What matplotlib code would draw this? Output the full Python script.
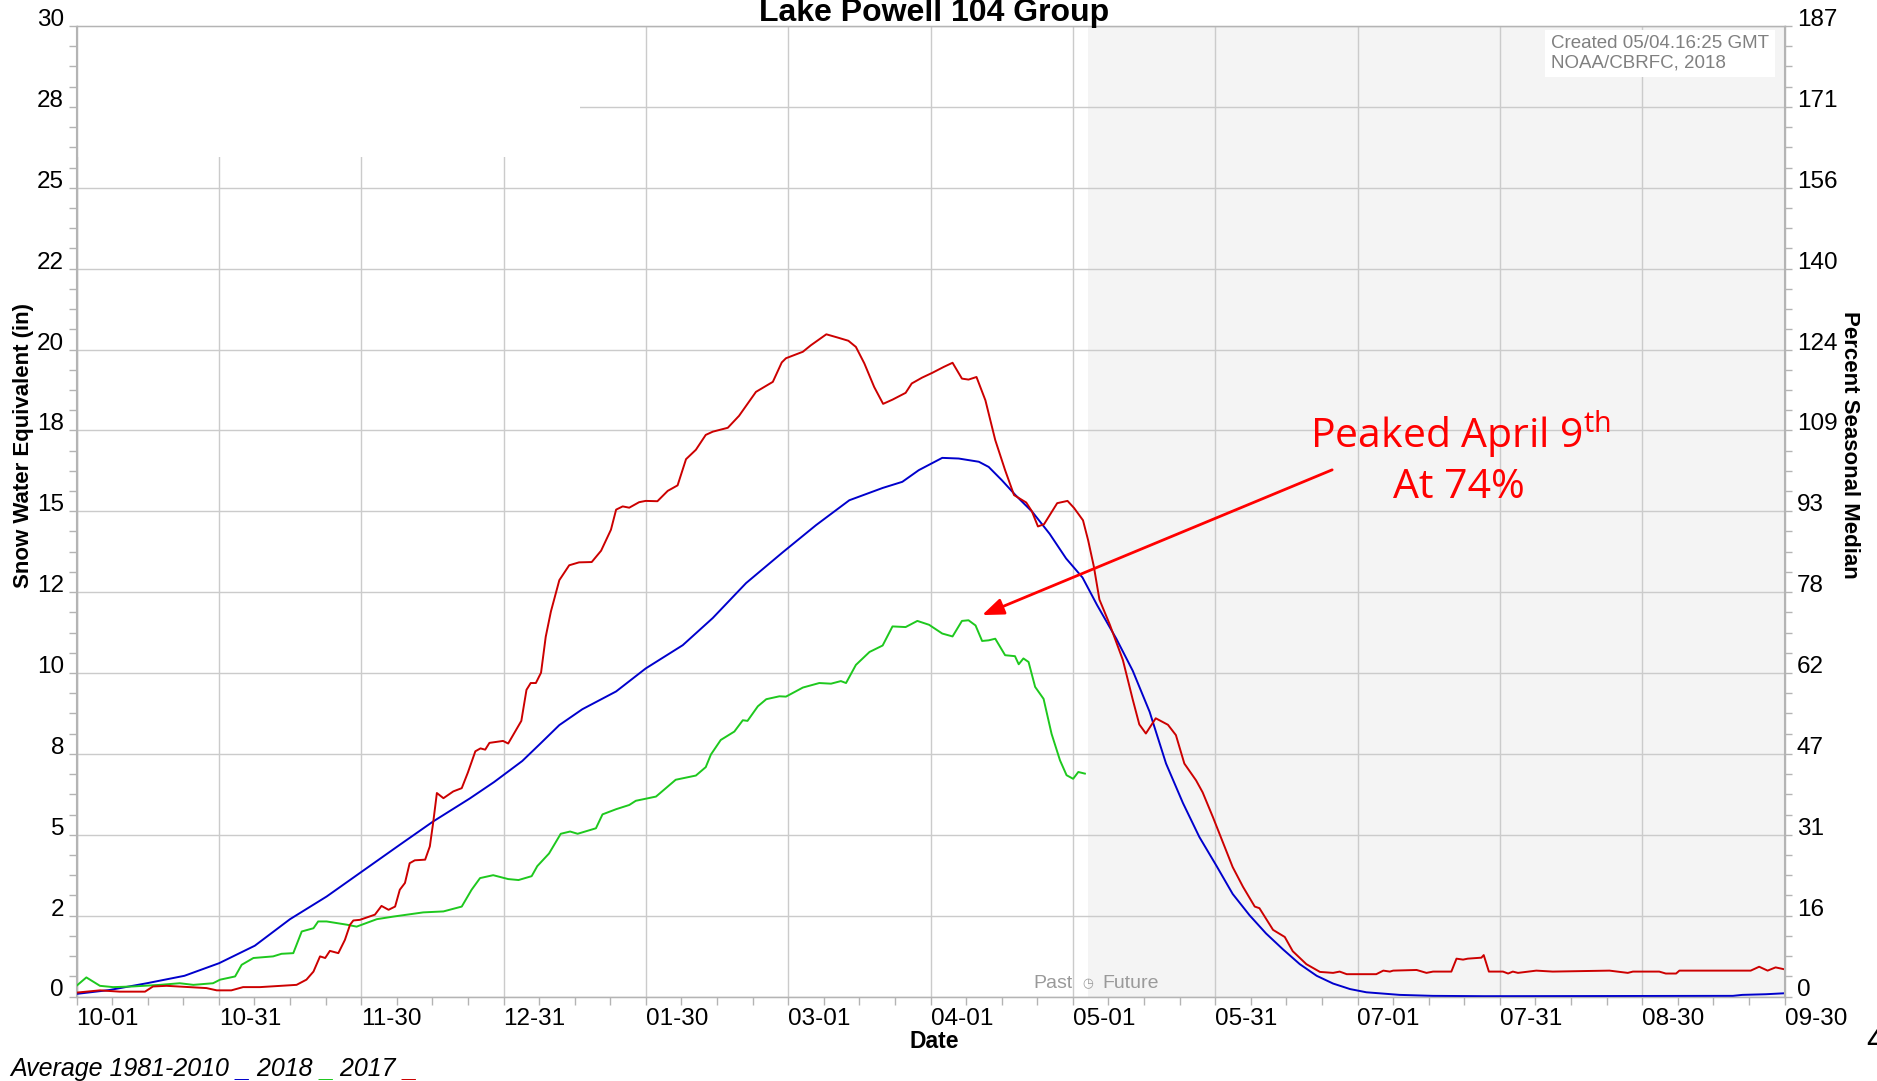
import numpy as np
import matplotlib
matplotlib.use("Agg")
import matplotlib.pyplot as plt
from matplotlib.ticker import FixedLocator, MultipleLocator

# ---------------- data (day of water year, SWE inches) ----------------
avg_day = [0, 7, 15, 23, 30.4, 38, 45.5, 53.3, 60.9, 68.9, 76, 83.8, 89, 95, 98.8,
           102.9, 107.8, 115, 121.3, 129.2, 135.6, 142.7, 150.5, 157.6, 164.7, 171.8,
           176, 179.5, 184.5, 188, 192.3, 194.4, 197.2, 200.1, 203.7, 207.4, 210.9,
           214.4, 217.5, 221.6, 225.1, 228.7, 232.2, 235.8, 239.3, 242.9, 246.4, 250,
           253.5, 257.1, 260.7, 264.3, 267.8, 271.4, 274.9, 282, 289, 300, 353, 355,
           360, 364]
avg_swe = [0.08, 0.2, 0.41, 0.64, 1.03, 1.57, 2.39, 3.09, 3.87, 4.69, 5.41, 6.12, 6.63,
           7.28, 7.81, 8.39, 8.88, 9.43, 10.14, 10.86, 11.7, 12.78, 13.73, 14.57, 15.34,
           15.72, 15.91, 16.27, 16.65, 16.63, 16.53, 16.37, 15.96, 15.5, 14.98, 14.3,
           13.54, 12.95, 12.1, 11.06, 10.07, 8.8, 7.2, 5.98, 4.93, 4.05, 3.17, 2.51,
           1.95, 1.46, 1.0, 0.64, 0.4, 0.23, 0.13, 0.05, 0.02, 0.01, 0.02, 0.05, 0.07,
           0.1]

wy2018_day = [0, 2.1, 5, 7.8, 12, 17.8, 22, 24.9, 29.1, 30.6, 33.8, 35.2, 37.7, 41.9,
              43.7, 46.2, 48, 50.5, 51.5, 53.3, 57.6, 59.7, 64, 67.5, 73.9, 78.2, 82.1,
              84.2, 86, 88.8, 92, 94.2, 97, 98.2, 100.7, 103.2, 105.2, 106.8, 110.7,
              112.1, 115, 117.8, 119.2, 123.5, 127.7, 132, 134.1, 135.2, 137.3, 140.2,
              142, 143, 145.2, 147, 149.8, 151.2, 154.8, 158.3, 160.8, 162.9, 164,
              166.1, 169, 171.8, 173.9, 176.7, 179.2, 181.7, 184.5, 186.7, 188.7, 190.1,
              191.6, 193, 194.4, 195.8, 197.9, 200, 200.8, 201.8, 202.9, 204.3, 206.1,
              207.8, 209.6, 211, 212.4, 213.5, 214.9]
wy2018_swe = [0.33, 0.59, 0.33, 0.29, 0.31, 0.36, 0.41, 0.36, 0.41, 0.52, 0.62, 0.98,
              1.19, 1.24, 1.32, 1.34, 2.01, 2.11, 2.32, 2.32, 2.22, 2.16, 2.39, 2.47,
              2.6, 2.63, 2.78, 3.3, 3.66, 3.75, 3.63, 3.6, 3.72, 4.03, 4.42, 5.03, 5.1,
              5.03, 5.2, 5.63, 5.79, 5.92, 6.05, 6.18, 6.7, 6.83, 7.09, 7.48, 7.93, 8.19,
              8.54, 8.52, 8.97, 9.19, 9.28, 9.27, 9.55, 9.69, 9.67, 9.75, 9.69, 10.25,
              10.65, 10.85, 11.44, 11.42, 11.61, 11.49, 11.22, 11.13, 11.61, 11.63,
              11.47, 10.99, 11.01, 11.06, 10.55, 10.52, 10.27, 10.45, 10.34, 9.57, 9.2,
              8.12, 7.3, 6.84, 6.73, 6.94, 6.89]

wy2017_day = [0, 5, 9.2, 14.6, 16.3, 19.2, 24.2, 27.7, 29.9, 33, 35.5, 39.1, 43.4, 46.9,
              49, 50.5, 51.9, 53, 54, 55.8, 57.2, 58.3, 59, 60.4, 63.6, 65, 66.5, 67.9,
              68.9, 70, 71, 72.1, 74.3, 75.3, 76, 76.8, 78.2, 80.3, 82.1, 83.4, 85, 86.1,
              87.1, 88, 90.9, 92, 94.8, 95.9, 96.8, 97.9, 99, 100, 101.1, 102.9, 105,
              107.1, 109.8, 111.8, 113.9, 115, 116.4, 117.8, 119.9, 121.3, 123.8, 126,
              128.1, 129.9, 132, 134.1, 135.6, 138.8, 141.2, 144.8, 148.4, 150.3, 151.2,
              154.8, 156.5, 159.8, 162.2, 164.5, 166.1, 167.9, 170, 171.9, 173.9, 176.7,
              178, 180.2, 182.4, 184.8, 186.7, 188.7, 190.1, 191.8, 193.7, 195.8, 197.9,
              199.8, 202.4, 203.6, 204.9, 206.2, 209, 211.2, 212.6, 214.5, 215.6, 216.8,
              218, 220.2, 223, 225.1, 226.5, 227.9, 230, 232.6, 234.3, 236.1, 238.6, 240,
              242.2, 244.3, 246.4, 248.6, 251.1, 252.1, 255, 257.5, 259.2, 262.1, 265,
              267.8, 269.2, 270.7, 277, 278.5, 279.9, 280.6, 285.6, 287.7, 289.1, 293,
              294.1, 295.5, 296.5, 299.4, 299.9, 301, 304, 305.1, 306.1, 307.2, 311.1,
              314.6, 326.7, 330.6, 331.7, 337.3, 338.7, 340.9, 341.6, 356.8, 358.6,
              360.4, 362.1, 364]
wy2017_swe = [0.12, 0.19, 0.15, 0.15, 0.31, 0.33, 0.29, 0.26, 0.19, 0.19, 0.29, 0.29,
              0.33, 0.36, 0.52, 0.77, 1.24, 1.19, 1.41, 1.34, 1.75, 2.22, 2.35, 2.37,
              2.53, 2.8, 2.68, 2.78, 3.3, 3.51, 4.12, 4.21, 4.23, 4.64, 5.36, 6.29, 6.13,
              6.34, 6.44, 6.92, 7.58, 7.67, 7.63, 7.84, 7.9, 7.82, 8.52, 9.48, 9.69,
              9.69, 10.01, 11.12, 11.9, 12.87, 13.33, 13.42, 13.43, 13.78, 14.43, 15.05,
              15.15, 15.11, 15.28, 15.32, 15.31, 15.63, 15.8, 16.61, 16.9, 17.36, 17.46,
              17.58, 17.95, 18.69, 19.0, 19.6, 19.73, 19.93, 20.13, 20.47, 20.37, 20.27,
              20.08, 19.57, 18.84, 18.32, 18.45, 18.66, 18.95, 19.13, 19.28, 19.46,
              19.59, 19.1, 19.07, 19.15, 18.43, 17.2, 16.27, 15.5, 15.27, 15.0, 14.53,
              14.6, 15.25, 15.32, 15.1, 14.72, 14.1, 13.3, 12.27, 11.5, 10.4, 9.18, 8.41,
              8.13, 8.6, 8.4, 8.08, 7.2, 6.68, 6.31, 5.54, 4.77, 4.0, 3.39, 2.78, 2.73,
              2.06, 1.84, 1.4, 1.0, 0.76, 0.73, 0.77, 0.69, 0.69, 0.8, 0.77, 0.8, 0.82,
              0.73, 0.77, 0.77, 1.17, 1.14, 1.17, 1.2, 1.28, 0.77, 0.77, 0.71, 0.77,
              0.73, 0.8, 0.77, 0.8, 0.73, 0.77, 0.77, 0.71, 0.71, 0.8, 0.8, 0.92, 0.8,
              0.9, 0.84]

x_tick_labels = ["10-01", "10-31", "11-30", "12-31", "01-30", "03-01", "04-01",
                 "05-01", "05-31", "07-01", "07-31", "08-30", "09-30"]
y_tick_values = [0, 2.5, 5, 7.5, 10, 12.5, 15, 17.5, 20, 22.5, 25, 27.5, 30]
y_tick_labels = ["0", "2", "5", "8", "10", "12", "15", "18", "20", "22", "25", "28", "30"]
pct_tick_labels = ["0", "16", "31", "47", "62", "78", "93", "109", "124", "140", "156",
                   "171", "187"]
series_names = ["Average 1981-2010", "2018", "2017"]
forecast_day = 215.5          # created 05/04
peak_point = (193.0, 11.79)   # arrow tip near the 2018 peak
note_start = (267.6, 16.28)

# ---------------- style ----------------
W, H, DPI = 1877, 1081, 100
plt.rcParams['font.family'] = ['Liberation Sans', 'DejaVu Sans']
from matplotlib import font_manager
names = {f.name for f in font_manager.fontManager.ttflist}
note_font = 'Open Sans' if 'Open Sans' in names else 'DejaVu Sans'

C_AVG, C_18, C_17 = '#0000cc', '#1ec81e', '#cc0000'
GRID = '#cbcbcb'
TICKC = '#b4b4b4'

fig = plt.figure(figsize=(W / DPI, H / DPI), dpi=DPI)
L, R, T, B = 76.5, 1784.5, 26.0, 996.5
ax = fig.add_axes([L / W, 1 - B / H, (R - L) / W, (B - T) / H])

xmax = 364
ax.set_xlim(0, xmax)
ax.set_ylim(0, 30)

ax.axvspan(forecast_day, xmax, color='#f4f4f4', zorder=0, lw=0)
ax.set_axisbelow(True)
ax.grid(True, which='major', color=GRID, lw=1.0)
# blank (white) panel in the upper-left corner of the plot
ax.add_patch(plt.Rectangle((0, 0.8655), 0.295, 0.1345, transform=ax.transAxes,
                           facecolor='white', edgecolor='none', zorder=0.8))

ax.plot(avg_day, avg_swe, color=C_AVG, lw=1.4, zorder=3)
ax.plot(wy2018_day, wy2018_swe, color=C_18, lw=1.4, zorder=3)
ax.plot(wy2017_day, wy2017_swe, color=C_17, lw=1.4, zorder=3)

xt = np.linspace(0, xmax, len(x_tick_labels))
ax.xaxis.set_major_locator(FixedLocator(xt))
ax.xaxis.set_minor_locator(FixedLocator(np.linspace(0, xmax, 4 * (len(xt) - 1) + 1)))
ax.set_xticklabels(x_tick_labels)
ax.yaxis.set_major_locator(FixedLocator(y_tick_values))
ax.yaxis.set_minor_locator(MultipleLocator(0.625))
ax.set_yticklabels(y_tick_labels)

for sp in ax.spines.values():
    sp.set_color(TICKC)
    sp.set_linewidth(1.0)
ax.tick_params(axis='both', which='both', direction='out', length=6, width=1,
               color=TICKC, labelsize=17.5, labelcolor='black')
ax.tick_params(axis='x', pad=2)
ax.tick_params(axis='y', pad=3)
for t in ax.get_xticklabels():
    t.set_ha('left')
for t in ax.get_yticklabels():
    t.set_va('baseline')

ax2 = ax.twinx()
ax2.set_ylim(0, 30)
ax2.yaxis.set_major_locator(FixedLocator(y_tick_values))
ax2.yaxis.set_minor_locator(MultipleLocator(0.625))
ax2.set_yticklabels(pct_tick_labels)
for sp in ax2.spines.values():
    sp.set_color(TICKC)
ax2.tick_params(axis='y', which='both', direction='out', length=6, width=1,
                color=TICKC, labelsize=17.5, pad=3)
for t in ax2.get_yticklabels():
    t.set_va('baseline')

# Past / Future marker
ax.annotate("Past", xy=(forecast_day, 0.25), xytext=(-11, 0), textcoords='offset points',
            ha='right', va='baseline', color='#9a9a9a', fontsize=14, zorder=4)
ax.annotate("\u25f7", xy=(forecast_day, 0.25), xytext=(0, 1), textcoords='offset points',
            ha='center', va='baseline', color='#9a9a9a', fontsize=9,
            family='DejaVu Sans', zorder=4)
ax.annotate("Future", xy=(forecast_day, 0.25), xytext=(10.5, 0), textcoords='offset points',
            ha='left', va='baseline', color='#9a9a9a', fontsize=14, zorder=4)

# annotation
ax.annotate('', xy=peak_point, xytext=note_start,
            arrowprops=dict(arrowstyle='-|>,head_length=1.3,head_width=0.5',
                            color='#ff0000', lw=2.0, shrinkA=0, shrinkB=0,
                            mutation_scale=10), zorder=5)
ax.text(295.0, 16.95, r"Peaked April $\mathregular{9^{th}}$", ha='center', va='baseline',
        color='#ff0000', fontsize=29.5, family=note_font, zorder=5)
ax.text(294.7, 15.40, "At 74%", ha='center', va='baseline',
        color='#ff0000', fontsize=29.5, family=note_font, zorder=5)

# creation stamp
fig.text(1551 / W, 1 - 53.5 / H, "Created 05/04.16:25 GMT\nNOAA/CBRFC, 2018",
         ha='left', va='center', fontsize=13.5, color='#808080', linespacing=1.2,
         bbox=dict(facecolor='white', edgecolor='none', pad=4), zorder=6)

# titles & labels
fig.text(934 / W, 1 - 21 / H, "Lake Powell 104 Group", ha='center', va='baseline',
         fontsize=23, fontweight='bold')
fig.text(24 / W, 1 - 445 / H, "Snow Water Equivalent (in)", rotation=90, ha='center',
         va='center', fontsize=16, fontweight='bold')
fig.text(1849 / W, 1 - 445 / H, "Percent Seasonal Median", rotation=270, ha='center',
         va='center', fontsize=16, fontweight='bold')
fig.text(934 / W, 1 - 1042 / H, "Date", ha='center', va='center', fontsize=16.5,
         fontweight='bold')
fig.text(1866 / W, 1 - 1041 / H, "4", ha='left', va='center', fontsize=24)

# legend line at the bottom
renderer = fig.canvas.get_renderer()
pieces = [(series_names[0] + " ", 'black'), ("_", C_AVG), (" " + series_names[1] + " ", 'black'),
          ("_", C_18), (" " + series_names[2] + " ", 'black'), ("_", C_17)]
xpix = 10.0
for s, c in pieces:
    t = fig.text(xpix / W, 1 - 1076 / H, s, ha='left', va='baseline', fontsize=18,
                 style='italic', color=c, fontweight='bold' if s == '_' else 'normal')
    bb = t.get_window_extent(renderer)
    xpix += bb.width

fig.savefig("out.png", dpi=DPI)
